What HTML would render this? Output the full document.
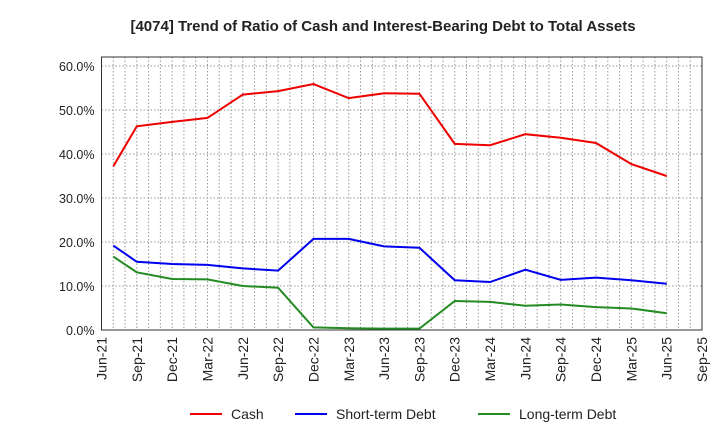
<!DOCTYPE html>
<html><head><meta charset="utf-8"><style>
body{margin:0;background:#fff;font-family:"Liberation Sans",sans-serif;}
svg text{font-family:"Liberation Sans",sans-serif;}
</style></head><body>
<svg id="chart" width="720" height="440" xmlns="http://www.w3.org/2000/svg">
<text x="383" y="31" text-anchor="middle" font-size="15" font-weight="bold" fill="#222">[4074]  Trend of Ratio of Cash and Interest-Bearing Debt to Total Assets</text>
<g id="grid"></g><g id="axes"></g><g id="series"></g>
<g>
<line x1="190" y1="414" x2="222" y2="414" stroke="#e00" stroke-width="2"/><text x="231" y="419" font-size="14" fill="#222">Cash</text>
<line x1="295" y1="414" x2="327" y2="414" stroke="#00e" stroke-width="2"/><text x="336" y="419" font-size="14" fill="#222">Short-term Debt</text>
<line x1="478" y1="414" x2="510" y2="414" stroke="#228b22" stroke-width="2"/><text x="519" y="419" font-size="14" fill="#222">Long-term Debt</text>
</g>
</svg>
<script>
const months=[1,3,6,9,12,15,18,21,24,27,30,33,36,39,42,45,48];
const cash=[37.2,46.3,47.3,48.2,53.5,54.3,55.9,52.7,53.8,53.7,42.3,42.0,44.5,43.7,42.5,37.7,35.0];
const shortDebt=[19.2,15.5,15.0,14.8,14.0,13.5,20.7,20.7,19.0,18.7,11.3,10.9,13.7,11.4,11.9,11.3,10.5];
const longDebt=[16.7,13.1,11.6,11.5,10.0,9.6,0.6,0.4,0.3,0.3,6.6,6.4,5.5,5.8,5.2,4.9,3.8];
const xLabels=["Jun-21","Sep-21","Dec-21","Mar-22","Jun-22","Sep-22","Dec-22","Mar-23","Jun-23","Sep-23","Dec-23","Mar-24","Jun-24","Sep-24","Dec-24","Mar-25","Jun-25","Sep-25"];
const yTicks=[0,10,20,30,40,50,60];
const L=101.5,R=702,T=57,B=330;
const x=m=>L+m*(R-L)/51;
const y=v=>B-v*4.4;
const NS="http://www.w3.org/2000/svg";
function mk(parent,tag,attrs){const e=document.createElementNS(NS,tag);for(const k in attrs)e.setAttribute(k,attrs[k]);document.getElementById(parent).appendChild(e);return e;}
for(let m=1;m<51;m++){const g=mk('grid','line',{x1:x(m),x2:x(m),y1:T,y2:B,stroke:'#999','stroke-dasharray':'1.5,2','stroke-width':1});

}
yTicks.forEach(v=>{if(v>0){const g=mk('grid','line',{x1:L,x2:R,y1:y(v),y2:y(v),stroke:'#999','stroke-dasharray':'1.5,2'});

}
const t=mk('axes','text',{x:L-7,y:y(v)+5,'text-anchor':'end','font-size':12.5,fill:'#222'});t.textContent=v.toFixed(1)+'%';

});
const f=mk('axes','rect',{x:L,y:T,width:R-L,height:B-T,fill:'none',stroke:'#333'});


xLabels.forEach((s,i)=>{const xx=x(i*3);const t=mk('axes','text',{transform:`translate(${xx+5},${B+7}) rotate(-90)`,'text-anchor':'end','font-size':14,fill:'#222'});t.textContent=s;

});
[[cash,'#e00','cash-line'],[shortDebt,'#00e','short-term-debt-line'],[longDebt,'#228b22','long-term-debt-line']].forEach(([d,c,n])=>{
const p=mk('series','polyline',{points:d.map((v,i)=>x(months[i])+','+y(v)).join(' '),fill:'none',stroke:c,'stroke-width':2});

});
</script>
</body></html>
